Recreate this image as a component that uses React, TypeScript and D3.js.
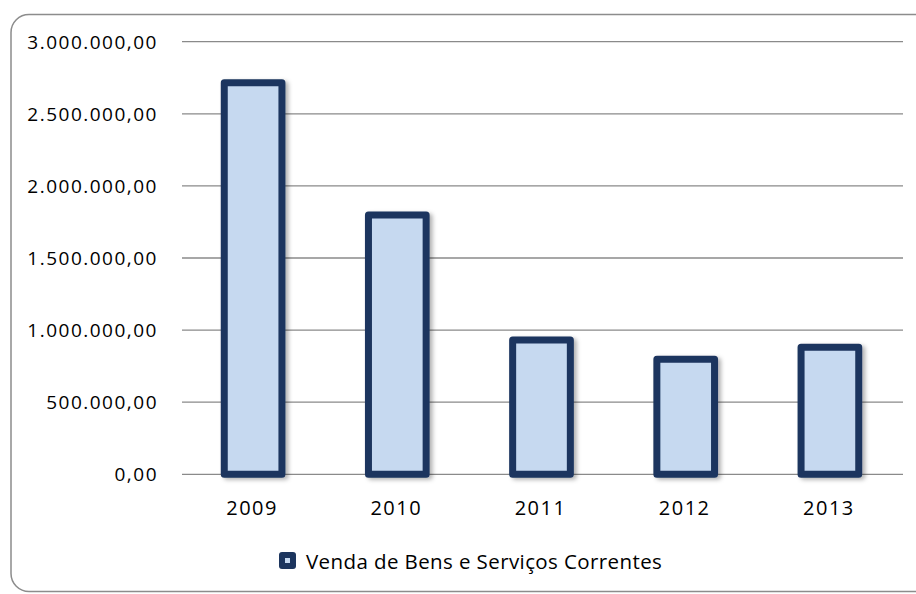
import React from "react";
import * as d3 from "d3";

const categories = ["2009", "2010", "2011", "2012", "2013"];
const values = [2716000, 1798000, 931000, 797000, 881000];
const yTicks = [0, 500000, 1000000, 1500000, 2000000, 2500000, 3000000];
const seriesName = "Venda de Bens e Serviços Correntes";

const W = 916;
const H = 594;
const FONT = "'Open Sans', 'Noto Sans', sans-serif";

const fmt = (v: number) => {
  const s = d3.format(",.2f")(v);
  return s.replace(/,/g, "#").replace(/\./g, ",").replace(/#/g, ".");
};

export default function App() {
  const y = d3.scaleLinear().domain([0, 3000000]).range([474.3, 41.7]);
  const x = d3
    .scaleBand<string>()
    .domain(categories)
    .range([181, 902])
    .paddingInner(0.6)
    .paddingOuter(0.3);
  const gridX1 = 182;
  const gridX2 = 903;
  const navy = "#1c355e";
  const fill = "#c6d9f0";

  return (
    <svg
      width={W}
      height={H}
      style={{ position: "absolute", left: 0, top: 0, background: "#fff" }}
    >
      <defs>
        <filter id="sh" x="-30%" y="-10%" width="160%" height="130%">
          <feDropShadow dx="3" dy="2" stdDeviation="2.2" floodColor="#000" floodOpacity="0.3" />
        </filter>
      </defs>
      <rect x={11} y={14.5} width={930} height={577} rx={18} ry={18} fill="#fff" stroke="#8c8c8c" strokeWidth={1.5} />
      {yTicks.map((t) => (
        <g key={t}>
          <line x1={gridX1} x2={gridX2} y1={y(t)} y2={y(t)} stroke="#8a8a8a" strokeWidth={1.3} />
          <text
            x={158}
            y={y(t)}
            dy="0.36em"
            textAnchor="end"
            fontFamily={FONT}
            fontSize={19}
            fontWeight={500}
            letterSpacing={1.5}
            fill="#000"
          >
            {fmt(t)}
          </text>
        </g>
      ))}
      {categories.map((c, i) => (
        <rect
          key={c}
          x={x(c)!}
          y={y(values[i])}
          width={x.bandwidth()}
          height={y(0) - y(values[i])}
          fill={fill}
          stroke={navy}
          strokeWidth={7}
          strokeLinejoin="round"
          filter="url(#sh)"
        />
      ))}
      {categories.map((c) => (
        <text
          key={c + "l"}
          x={x(c)! + x.bandwidth() / 2 - 1}
          y={515}
          textAnchor="middle"
          fontFamily={FONT}
          fontSize={20}
          fontWeight={500}
          letterSpacing={1.5}
          fill="#000"
        >
          {c}
        </text>
      ))}
      <g>
        <rect x={279} y={552} width={17} height={17} rx={3} fill={navy} />
        <rect x={285} y={558} width={5} height={5} fill={fill} />
        <text x={306} y={569} fontFamily={FONT} fontSize={20.5} fontWeight={500} letterSpacing={0.4} fill="#000">
          {seriesName}
        </text>
      </g>
    </svg>
  );
}
